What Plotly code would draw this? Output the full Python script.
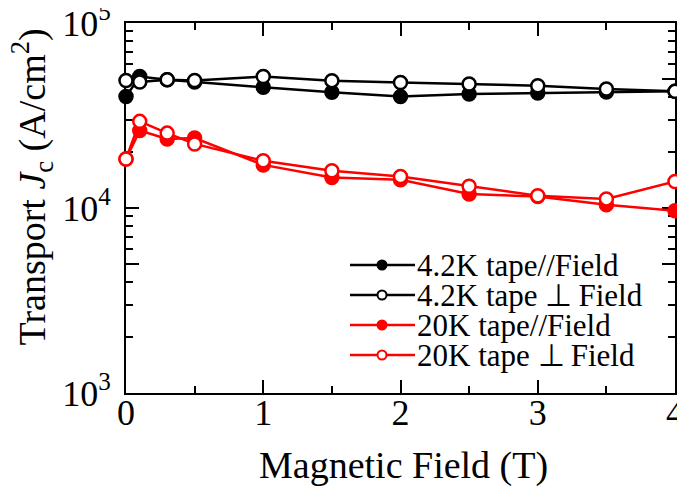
import plotly.graph_objects as go

field = [0, 0.1, 0.3, 0.5, 1, 1.5, 2, 2.5, 3, 3.5, 4]
jc_42_par = [40100, 51400, 49400, 48000, 44900, 42200, 40000, 41300, 41800, 42400, 42700]
jc_42_perp = [48900, 48000, 49400, 48900, 51400, 48800, 47700, 46800, 45800, 44000, 42700]
jc_20_par = [18400, 26200, 23600, 23900, 17100, 14600, 14200, 11900, 11550, 10400, 9670]
jc_20_perp = [18400, 29400, 25400, 22200, 18000, 15900, 14800, 13100, 11650, 11200, 13900]

names = ["4.2K tape//Field", "4.2K tape \u22a5\u2009Field", "20K tape//Field", "20K tape \u22a5\u2009Field"]
series = [jc_42_par, jc_42_perp, jc_20_par, jc_20_perp]
colors = ["black", "black", "#ff0000", "#ff0000"]
filled = [True, False, True, False]

y_major = [1e3, 5e3, 1e4, 5e4, 1e5]
y_major_text = ["10<sup>3</sup>", "", "10<sup>4</sup>", "", "10<sup>5</sup>"]
y_minor = [m * 10 ** e for e in (3, 4) for m in (2, 3, 4, 6, 7, 8, 9)]

x_title = "Magnetic Field (T)"
y_title = "Transport <i>J</i><sub>c</sub> (A/cm<sup>2</sup>)"

FONT = "Liberation Serif"

fig = go.Figure()
for nm, ys, c, f in zip(names, series, colors, filled):
    fig.add_trace(go.Scatter(
        x=field, y=ys, mode="lines+markers", name=nm, showlegend=False,
        cliponaxis=False,
        line=dict(color=c, width=2.5),
        marker=dict(symbol="circle", size=13, color=c if f else "white",
                    line=dict(color=c, width=2.5)),
    ))

# manual legend (pixel-like coordinates on a hidden overlay axis)
leg_rows = [128, 98, 68, 38]
for nm, c, f, yr in zip(names, colors, filled, leg_rows):
    fig.add_trace(go.Scatter(
        x=[224, 256, 289], y=[yr, yr, yr], xaxis="x2", yaxis="y2",
        mode="lines", showlegend=False, hoverinfo="skip",
        line=dict(color=c, width=2.5),
    ))
    fig.add_trace(go.Scatter(
        x=[256], y=[yr], xaxis="x2", yaxis="y2",
        mode="markers", showlegend=False, hoverinfo="skip",
        marker=dict(symbol="circle", size=9, color=c if f else "white",
                    line=dict(color=c, width=2)),
    ))
    fig.add_annotation(x=289, y=yr, xref="x2", yref="y2", text=nm,
                       showarrow=False, xanchor="left", yanchor="middle",
                       font=dict(family=FONT, size=31, color="black"))

# axis titles as annotations for exact placement
fig.add_annotation(x=0.505, y=-0.197, xref="paper", yref="paper", text=x_title,
                   showarrow=False, xanchor="center", yanchor="middle",
                   font=dict(family=FONT, size=38, color="black"))
fig.add_annotation(x=-0.172, y=0.557, xref="paper", yref="paper", text=y_title,
                   textangle=-90, showarrow=False, xanchor="center", yanchor="middle",
                   font=dict(family=FONT, size=38, color="black"))

axis_common = dict(
    showline=True, linecolor="black", linewidth=2, mirror="allticks",
    ticks="inside", ticklen=13, tickwidth=2, tickcolor="black",
    showgrid=False, zeroline=False, layer="below traces", automargin=False,
    ticklabeloverflow="allow",
    tickfont=dict(family=FONT, size=36, color="black"),
)

# the page body adds an 8px offset, so the figure is sized to fit the window
fig.update_layout(
    width=677, height=487,
    margin=dict(l=118, r=10, t=15, b=102),
    paper_bgcolor="white", plot_bgcolor="white",
    font=dict(family=FONT, color="black"),
    xaxis=dict(
        range=[0, 4], tickmode="linear", tick0=0, dtick=1,
        minor=dict(ticks="inside", ticklen=7, tickwidth=2, tickcolor="black",
                   tickmode="linear", tick0=0, dtick=0.5, showgrid=False),
        ticklabelstandoff=-13,
        **axis_common,
    ),
    yaxis=dict(
        type="log", range=[3, 5],
        tickmode="array", tickvals=y_major, ticktext=y_major_text,
        minor=dict(ticks="inside", ticklen=7, tickwidth=2, tickcolor="black",
                   tickmode="array", tickvals=y_minor, showgrid=False),
        ticklabelstandoff=6,
        **axis_common,
    ),
    xaxis2=dict(range=[0, 549], overlaying="x", visible=False, fixedrange=True),
    yaxis2=dict(range=[0, 370], overlaying="y", visible=False, fixedrange=True),
)

fig.write_html("out.html")
